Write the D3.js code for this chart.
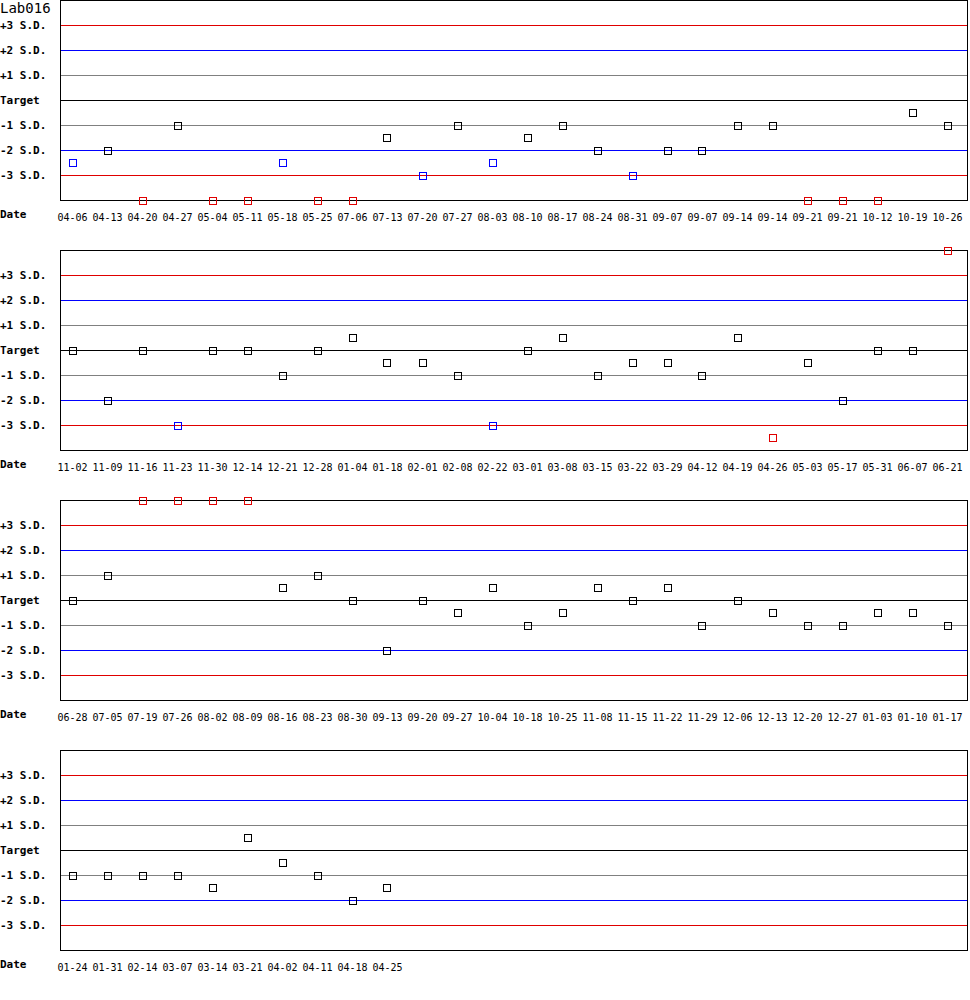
<!DOCTYPE html>
<html lang="en">
<head>
<meta charset="UTF-8">
<title>Lab016</title>
<style>
    body { margin: 0; background: #FFFFFF; }
    svg { display: block; }
    text { font-family: "DejaVu Sans Mono", "Liberation Mono", monospace; fill: #000; }
</style>
</head>
<body>
<div id="chart"></div>
<script src="https://d3js.org/d3.v7.min.js"></script>
<script>
// Chart data, one pair of arrays per panel (values in S.D. from target)
const title = "Lab016";

const dates1 = ["04-06","04-13","04-20","04-27","05-04","05-11","05-18","05-25","07-06","07-13","07-20","07-27","08-03",
                "08-10","08-17","08-24","08-31","09-07","09-07","09-14","09-14","09-21","09-21","10-12","10-19","10-26"];
const values1 = [-2.5,-2,-4,-1,-4,-4,-2.5,-4,-4,-1.5,-3,-1,-2.5,-1.5,-1,-2,-3,-2,-2,-1,-1,-4,-4,-4,-0.5,-1];

const dates2 = ["11-02","11-09","11-16","11-23","11-30","12-14","12-21","12-28","01-04","01-18","02-01","02-08","02-22",
                "03-01","03-08","03-15","03-22","03-29","04-12","04-19","04-26","05-03","05-17","05-31","06-07","06-21"];
const values2 = [0,-2,0,-3,0,0,-1,0,0.5,-0.5,-0.5,-1,-3,0,0.5,-1,-0.5,-0.5,-1,0.5,-3.5,-0.5,-2,0,0,4];

const dates3 = ["06-28","07-05","07-19","07-26","08-02","08-09","08-16","08-23","08-30","09-13","09-20","09-27","10-04",
                "10-18","10-25","11-08","11-15","11-22","11-29","12-06","12-13","12-20","12-27","01-03","01-10","01-17"];
const values3 = [0,1,4,4,4,4,0.5,1,0,-2,0,-0.5,0.5,-1,-0.5,0.5,0,0.5,-1,0,-0.5,-1,-1,-0.5,-0.5,-1];

const dates4 = ["01-24","01-31","02-14","03-07","03-14","03-21","04-02","04-11","04-18","04-25"];
const values4 = [-1,-1,-1,-1,-1.5,0.5,-0.5,-1,-2,-1.5];

const levels = [3, 2, 1, 0, -1, -2, -3];
const levelLabels = ["+3 S.D.", "+2 S.D.", "+1 S.D.", "Target", "-1 S.D.", "-2 S.D.", "-3 S.D."];

const panels = [
    { dates: dates1, values: values1 },
    { dates: dates2, values: values2 },
    { dates: dates3, values: values3 },
    { dates: dates4, values: values4 }
];

const width = 970, height = 1000;
const left = 60.5, right = 967.5;
const panelStep = 250, plotHeight = 200;

function lineColor(lv) {
    const a = Math.abs(lv);
    if (a === 3) return "#e00000";
    if (a === 2) return "#0000ff";
    if (a === 1) return "#808080";
    return "#000000";
}

function pointColor(v) {
    const a = Math.abs(v);
    if (a > 3) return "#e00000";
    if (a > 2) return "#0000ff";
    return "#000000";
}

const svg = d3.select("#chart").append("svg")
    .attr("width", width)
    .attr("height", height);

// same slot spacing in every panel
const x = d3.scaleLinear().domain([0, 25]).range([72.5, 947.5]);

panels.forEach((p, pi) => {
    const top = pi * panelStep;
    const y = d3.scaleLinear().domain([4, -4]).range([top + 0.5, top + plotHeight + 0.5]);
    const g = svg.append("g");

    // reference lines
    g.selectAll("line.level")
        .data(levels)
        .join("line")
        .attr("class", "level")
        .attr("x1", left).attr("x2", right)
        .attr("y1", d => y(d)).attr("y2", d => y(d))
        .attr("stroke", d => lineColor(d))
        .attr("stroke-width", 1)
        .attr("shape-rendering", "crispEdges");

    // frame: left, right, top, bottom
    g.append("rect")
        .attr("x", left).attr("y", y(4))
        .attr("width", right - left).attr("height", y(-4) - y(4))
        .attr("fill", "none")
        .attr("stroke", "#000")
        .attr("stroke-width", 1)
        .attr("shape-rendering", "crispEdges");

    // level labels
    g.selectAll("text.level")
        .data(levels)
        .join("text")
        .attr("class", "level")
        .attr("x", 0)
        .attr("y", d => y(d))
        .attr("dy", "0.35em")
        .attr("font-size", "11px")
        .attr("font-weight", "bold")
        .text((d, i) => levelLabels[i]);

    g.append("text")
        .attr("x", 0)
        .attr("y", top + 214.5)
        .attr("dy", "0.35em")
        .attr("font-size", "11px")
        .attr("font-weight", "bold")
        .text("Date");

    // date labels
    g.selectAll("text.date")
        .data(p.dates)
        .join("text")
        .attr("class", "date")
        .attr("x", (d, i) => x(i))
        .attr("y", top + 217.5)
        .attr("dy", "0.35em")
        .attr("text-anchor", "middle")
        .attr("font-size", "10px")
        .text(d => d);

    // points
    g.selectAll("rect.pt")
        .data(p.values)
        .join("rect")
        .attr("class", "pt")
        .attr("x", (d, i) => Math.round(x(i)) - 3.5)
        .attr("y", d => Math.round(y(d)) - 3.5)
        .attr("width", 7)
        .attr("height", 7)
        .attr("fill", "none")
        .attr("stroke", d => pointColor(d))
        .attr("stroke-width", 1)
        .attr("shape-rendering", "crispEdges");
});

svg.append("text")
    .attr("x", 0)
    .attr("y", 8)
    .attr("dy", "0.35em")
    .attr("font-size", "14px")
    .text(title);
</script>
</body>
</html>
